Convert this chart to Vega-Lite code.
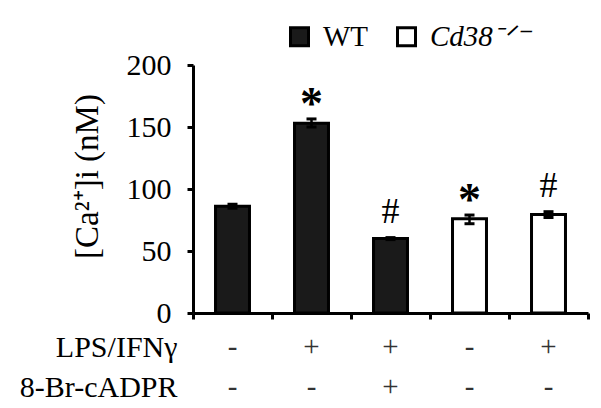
{
  "$schema": "https://vega.github.io/schema/vega-lite/v6.json",
  "width": 395,
  "height": 248,
  "autosize": {"type": "none"},
  "padding": {"left": 193, "top": 65, "right": 13, "bottom": 95},
  "background": "white",
  "config": {
    "font": "Liberation Serif",
    "view": {"stroke": null},
    "axis": {
      "domainColor": "black", "domainWidth": 3, "tickColor": "black", "tickWidth": 3, "tickSize": 6,
      "labelFont": "Liberation Serif", "labelColor": "black", "titleFont": "Liberation Serif", "titleColor": "black",
      "titleFontWeight": "normal", "grid": false
    }
  },
  "datasets": {
    "bars": [
      {"g": "1", "geno": "WT", "mean": 86, "lo": 84.5, "hi": 87.7, "sig": ""},
      {"g": "2", "geno": "WT", "mean": 153, "lo": 150, "hi": 156.5, "sig": "*"},
      {"g": "3", "geno": "WT", "mean": 60, "lo": 59.2, "hi": 60.8, "sig": "#"},
      {"g": "4", "geno": "Cd38", "mean": 76, "lo": 72, "hi": 79, "sig": "*"},
      {"g": "5", "geno": "Cd38", "mean": 79.5, "lo": 77, "hi": 81.7, "sig": "#"}
    ],
    "table": [
      {"g": "1", "row": "LPS/IFNγ", "sign": "-"},
      {"g": "2", "row": "LPS/IFNγ", "sign": "+"},
      {"g": "3", "row": "LPS/IFNγ", "sign": "+"},
      {"g": "4", "row": "LPS/IFNγ", "sign": "-"},
      {"g": "5", "row": "LPS/IFNγ", "sign": "+"},
      {"g": "1", "row": "8-Br-cADPR", "sign": "-"},
      {"g": "2", "row": "8-Br-cADPR", "sign": "-"},
      {"g": "3", "row": "8-Br-cADPR", "sign": "+"},
      {"g": "4", "row": "8-Br-cADPR", "sign": "-"},
      {"g": "5", "row": "8-Br-cADPR", "sign": "-"}
    ]
  },
  "layer": [
    {
      "data": {"name": "bars"},
      "encoding": {
        "x": {
          "field": "g", "type": "nominal",
          "scale": {"type": "band", "domain": ["1", "2", "3", "4", "5"], "paddingInner": 0, "paddingOuter": 0},
          "axis": {"title": null, "labels": false, "tickBand": "extent", "orient": "bottom"}
        }
      },
      "layer": [
        {
          "mark": {"type": "bar", "width": {"band": 0.43}, "stroke": "black", "strokeWidth": 3},
          "encoding": {
            "y": {
              "field": "mean", "type": "quantitative",
              "scale": {"domain": [0, 200], "nice": false},
              "axis": {
                "values": [0, 50, 100, 150, 200], "orient": "left",
                "labelFontSize": 30, "labelPadding": 16,
                "title": "[Ca²⁺]i (nM)", "titleFontSize": 33,
                "titleAngle": 270, "titleAlign": "center", "titleBaseline": "middle",
                "titleX": -106, "titleY": 111
              }
            },
            "fill": {
              "field": "geno", "type": "nominal",
              "scale": {"domain": ["WT", "Cd38"], "range": ["#1a1a1a", "white"]},
              "legend": {
                "title": null, "orient": "none", "direction": "horizontal",
                "legendX": 92, "legendY": -43, "padding": 0,
                "symbolType": "square", "symbolSize": 324, "symbolStrokeColor": "black", "symbolStrokeWidth": 3,
                "labelFont": "Liberation Serif", "labelFontSize": 29, "labelColor": "black", "labelOffset": 9,
                "columnPadding": 22,
                "labelExpr": "datum.value == 'WT' ? 'WT' : 'Cd38⁻ᐟ⁻'",
                "encode": {"labels": {"update": {"fontStyle": {"signal": "datum.value == 'WT' ? 'normal' : 'italic'"}}}}
              }
            }
          }
        },
        {
          "mark": {"type": "rule", "stroke": "black", "strokeWidth": 2.5},
          "encoding": {
            "y": {"field": "lo", "type": "quantitative"},
            "y2": {"field": "hi"}
          }
        },
        {
          "mark": {"type": "tick", "color": "black", "size": 10, "thickness": 3, "opacity": 1},
          "encoding": {"y": {"field": "hi", "type": "quantitative"}}
        },
        {
          "mark": {"type": "tick", "color": "black", "size": 10, "thickness": 3, "opacity": 1},
          "encoding": {"y": {"field": "lo", "type": "quantitative"}}
        },
        {
          "transform": [{"filter": "datum.sig == '*'"}],
          "mark": {"type": "text", "font": "Liberation Serif", "fontWeight": "bold", "fontSize": 46, "baseline": "alphabetic", "dy": 0, "color": "black"},
          "encoding": {
            "y": {"field": "hi", "type": "quantitative"},
            "text": {"field": "sig"}
          }
        },
        {
          "transform": [{"filter": "datum.sig == '#'"}],
          "mark": {"type": "text", "font": "Liberation Serif", "fontSize": 36, "baseline": "alphabetic", "dy": -15, "color": "black"},
          "encoding": {
            "y": {"field": "hi", "type": "quantitative"},
            "text": {"field": "sig"}
          }
        }
      ]
    },
    {
      "data": {"name": "table"},
      "mark": {"type": "text", "font": "Liberation Serif", "fontSize": 29, "color": "#333", "baseline": "middle"},
      "encoding": {
        "x": {"field": "g", "type": "nominal"},
        "y": {
          "field": "row", "type": "nominal",
          "scale": {"type": "point", "domain": ["LPS/IFNγ", "8-Br-cADPR"], "range": [282, 322], "padding": 0},
          "axis": {"orient": "left", "title": null, "domain": false, "ticks": false, "labelPadding": 16, "labelFontSize": 30, "labelColor": "black"}
        },
        "text": {"field": "sign"}
      }
    }
  ],
  "resolve": {"scale": {"y": "independent"}}
}
